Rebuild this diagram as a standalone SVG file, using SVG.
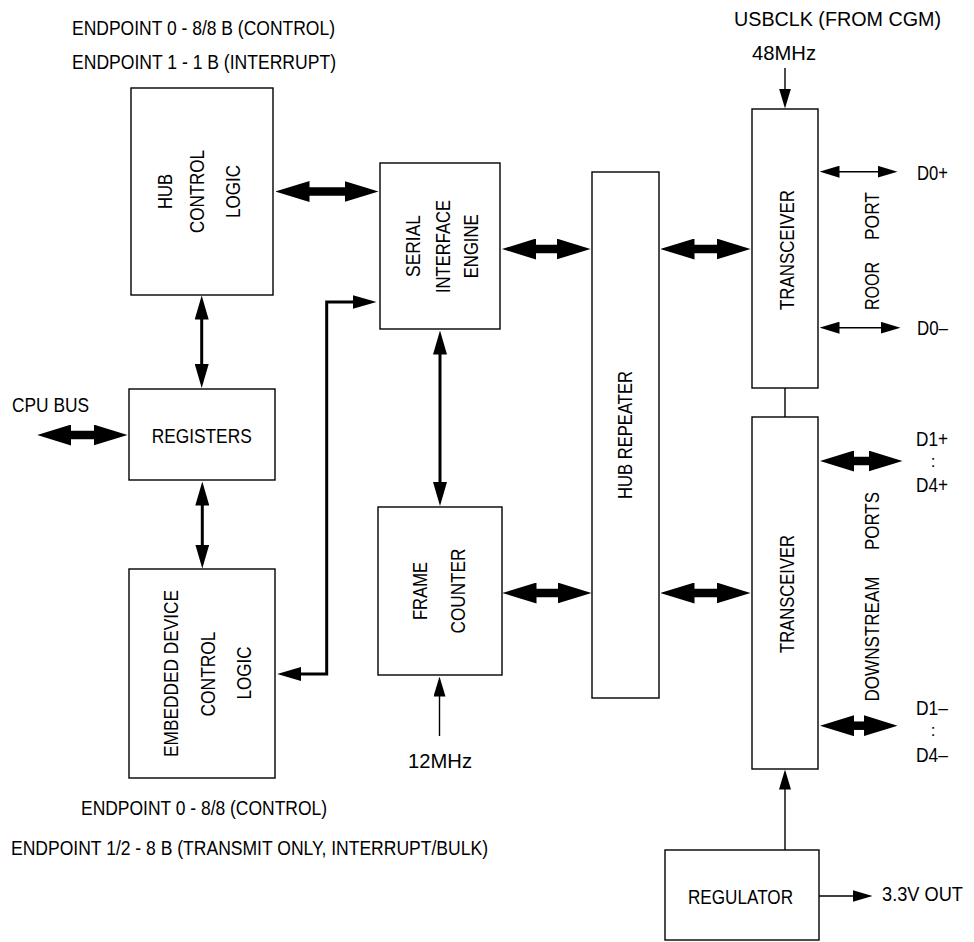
<svg xmlns="http://www.w3.org/2000/svg" width="974" height="942" viewBox="0 0 974 942">
<style>
  .box { fill: #fff; stroke: #000; stroke-width: 1.4; }
  text { font-family: "Liberation Sans", Arial, sans-serif; font-size: 20.5px; fill: #000; }
  .fat { stroke: #000; stroke-width: 8.5; fill: none; marker-start: url(#fatHead); marker-end: url(#fatHead); }
  .med { stroke: #000; stroke-width: 3; fill: none; stroke-linejoin: miter; marker-start: url(#medHead); marker-end: url(#medHead); }
  .thin { stroke: #000; stroke-width: 1.4; fill: none; }
  .thin1 { marker-end: url(#thinHead); }
  .thin2 { marker-start: url(#thinHead); marker-end: url(#thinHead); }
</style>
<defs>
  <marker id="fatHead" markerUnits="userSpaceOnUse" viewBox="0 0 34 21" markerWidth="34" markerHeight="21" refX="0.5" refY="10.5" orient="auto-start-reverse">
    <path d="M0,0 L34,10.5 L0,21 Z" fill="#000"/>
  </marker>
  <marker id="medHead" markerUnits="userSpaceOnUse" viewBox="0 0 24 14" markerWidth="24" markerHeight="14" refX="0.5" refY="7" orient="auto-start-reverse">
    <path d="M0,0 L24,7 L0,14 Z" fill="#000"/>
  </marker>
  <marker id="thinHead" markerUnits="userSpaceOnUse" viewBox="0 0 20 12" markerWidth="20" markerHeight="12" refX="0.5" refY="6" orient="auto-start-reverse">
    <path d="M0,0 L20,6 L0,12 Z" fill="#000"/>
  </marker>
</defs>

<rect width="974" height="942" fill="#fff"/>

<!-- free labels -->
<g id="labels">
  <text x="72" y="35" textLength="263" lengthAdjust="spacingAndGlyphs">ENDPOINT 0 - 8/8 B (CONTROL)</text>
  <text x="72" y="69" textLength="264" lengthAdjust="spacingAndGlyphs">ENDPOINT 1 - 1 B (INTERRUPT)</text>
  <text x="734" y="26" textLength="207" lengthAdjust="spacingAndGlyphs">USBCLK (FROM CGM)</text>
  <text x="752" y="60" textLength="64" lengthAdjust="spacingAndGlyphs">48MHz</text>
  <text x="917" y="180" textLength="31" lengthAdjust="spacingAndGlyphs">D0+</text>
  <text x="917" y="335" textLength="31" lengthAdjust="spacingAndGlyphs">D0–</text>
  <text x="879" y="216" transform="rotate(-90 879 216)" text-anchor="middle" textLength="48" lengthAdjust="spacingAndGlyphs">PORT</text>
  <text x="879" y="286" transform="rotate(-90 879 286)" text-anchor="middle" textLength="48" lengthAdjust="spacingAndGlyphs">ROOR</text>
  <text x="12" y="412" textLength="77" lengthAdjust="spacingAndGlyphs">CPU BUS</text>
  <text x="916" y="446" textLength="32" lengthAdjust="spacingAndGlyphs">D1+</text>
  <text x="933" y="467" text-anchor="middle" style="font-size:17px">:</text>
  <text x="916" y="492" textLength="32" lengthAdjust="spacingAndGlyphs">D4+</text>
  <text x="879" y="521" transform="rotate(-90 879 521)" text-anchor="middle" textLength="58" lengthAdjust="spacingAndGlyphs">PORTS</text>
  <text x="879" y="639" transform="rotate(-90 879 639)" text-anchor="middle" textLength="125" lengthAdjust="spacingAndGlyphs">DOWNSTREAM</text>
  <text x="916" y="715" textLength="32" lengthAdjust="spacingAndGlyphs">D1–</text>
  <text x="933" y="736" text-anchor="middle" style="font-size:17px">:</text>
  <text x="916" y="762" textLength="32" lengthAdjust="spacingAndGlyphs">D4–</text>
  <text x="408" y="768" textLength="64" lengthAdjust="spacingAndGlyphs">12MHz</text>
  <text x="81" y="815" textLength="246" lengthAdjust="spacingAndGlyphs">ENDPOINT 0 - 8/8 (CONTROL)</text>
  <text x="11" y="855" textLength="477" lengthAdjust="spacingAndGlyphs">ENDPOINT 1/2 - 8 B (TRANSMIT ONLY, INTERRUPT/BULK)</text>
  <text x="882" y="901" textLength="81" lengthAdjust="spacingAndGlyphs">3.3V OUT</text>
</g>

<!-- connectors -->
<g id="connectors">
  <!-- fat double arrows -->
  <line class="fat" x1="309" y1="191.5" x2="345" y2="191.5"/>
  <line class="fat" x1="535.5" y1="249" x2="557" y2="249"/>
  <line class="fat" x1="536" y1="593" x2="558" y2="593"/>
  <line class="fat" x1="694" y1="249" x2="717" y2="249"/>
  <line class="fat" x1="694" y1="593" x2="717" y2="593"/>
  <line class="fat" x1="70.7" y1="435" x2="94" y2="435"/>
  <line class="fat" x1="853.5" y1="461" x2="869" y2="461"/>
  <line class="fat" x1="853.5" y1="725.7" x2="864" y2="725.7"/>
  <!-- medium double arrows -->
  <line class="med" x1="201.7" y1="319" x2="201.7" y2="364.5"/>
  <line class="med" x1="202.3" y1="505" x2="202.3" y2="545"/>
  <line class="med" x1="440" y1="354" x2="440" y2="482.5"/>
  <path class="med" d="M353,302 L326.7,302 L326.7,674 L300.7,674"/>
  <!-- thin arrows -->
  <line class="thin thin1" x1="785" y1="68" x2="785" y2="89"/>
  <line class="thin thin1" x1="439.5" y1="736" x2="439.5" y2="696"/>
  <line class="thin thin1" x1="785" y1="850" x2="785" y2="789"/>
  <line class="thin thin1" x1="819" y1="896" x2="853" y2="896"/>
  <line class="thin thin2" x1="839" y1="171.7" x2="878" y2="171.7"/>
  <line class="thin thin2" x1="839" y1="327.7" x2="881" y2="327.7"/>
  <line class="thin" x1="785" y1="388" x2="785" y2="417"/>
</g>

<g id="hub-control-logic">
  <rect class="box" x="131" y="88" width="142" height="207"/>
  <text x="172" y="191.5" transform="rotate(-90 172 191.5)" text-anchor="middle" textLength="35" lengthAdjust="spacingAndGlyphs">HUB</text>
  <text x="204" y="191.5" transform="rotate(-90 204 191.5)" text-anchor="middle" textLength="83" lengthAdjust="spacingAndGlyphs">CONTROL</text>
  <text x="240" y="191.5" transform="rotate(-90 240 191.5)" text-anchor="middle" textLength="53" lengthAdjust="spacingAndGlyphs">LOGIC</text>
</g>

<g id="serial-interface-engine">
  <rect class="box" x="380" y="163" width="120" height="166"/>
  <text x="420" y="246" transform="rotate(-90 420 246)" text-anchor="middle" textLength="62" lengthAdjust="spacingAndGlyphs">SERIAL</text>
  <text x="450" y="246.5" transform="rotate(-90 450 246.5)" text-anchor="middle" textLength="93" lengthAdjust="spacingAndGlyphs">INTERFACE</text>
  <text x="478" y="246.3" transform="rotate(-90 478 246.3)" text-anchor="middle" textLength="64" lengthAdjust="spacingAndGlyphs">ENGINE</text>
</g>

<g id="hub-repeater">
  <rect class="box" x="592" y="172" width="67" height="526"/>
  <text x="632" y="435" transform="rotate(-90 632 435)" text-anchor="middle" textLength="128" lengthAdjust="spacingAndGlyphs">HUB REPEATER</text>
</g>

<g id="transceiver-upstream">
  <rect class="box" x="752" y="109" width="66" height="279"/>
  <text x="794" y="250" transform="rotate(-90 794 250)" text-anchor="middle" textLength="120" lengthAdjust="spacingAndGlyphs">TRANSCEIVER</text>
</g>

<g id="transceiver-downstream">
  <rect class="box" x="752" y="417" width="66" height="352"/>
  <text x="794" y="594" transform="rotate(-90 794 594)" text-anchor="middle" textLength="118" lengthAdjust="spacingAndGlyphs">TRANSCEIVER</text>
</g>

<g id="registers">
  <rect class="box" x="129" y="389" width="146" height="91"/>
  <text x="201.7" y="443" text-anchor="middle" textLength="100" lengthAdjust="spacingAndGlyphs">REGISTERS</text>
</g>

<g id="embedded-device-control-logic">
  <rect class="box" x="129" y="569" width="146" height="209"/>
  <text x="178" y="673.5" transform="rotate(-90 178 673.5)" text-anchor="middle" textLength="167" lengthAdjust="spacingAndGlyphs">EMBEDDED DEVICE</text>
  <text x="215" y="674" transform="rotate(-90 215 674)" text-anchor="middle" textLength="85" lengthAdjust="spacingAndGlyphs">CONTROL</text>
  <text x="251" y="673" transform="rotate(-90 251 673)" text-anchor="middle" textLength="53" lengthAdjust="spacingAndGlyphs">LOGIC</text>
</g>

<g id="frame-counter">
  <rect class="box" x="378" y="507" width="124" height="168"/>
  <text x="426.7" y="591" transform="rotate(-90 426.7 591)" text-anchor="middle" textLength="58" lengthAdjust="spacingAndGlyphs">FRAME</text>
  <text x="465" y="591" transform="rotate(-90 465 591)" text-anchor="middle" textLength="85" lengthAdjust="spacingAndGlyphs">COUNTER</text>
</g>

<g id="regulator">
  <rect class="box" x="665" y="850" width="154" height="90"/>
  <text x="740.5" y="904" text-anchor="middle" textLength="105" lengthAdjust="spacingAndGlyphs">REGULATOR</text>
</g>
</svg>
